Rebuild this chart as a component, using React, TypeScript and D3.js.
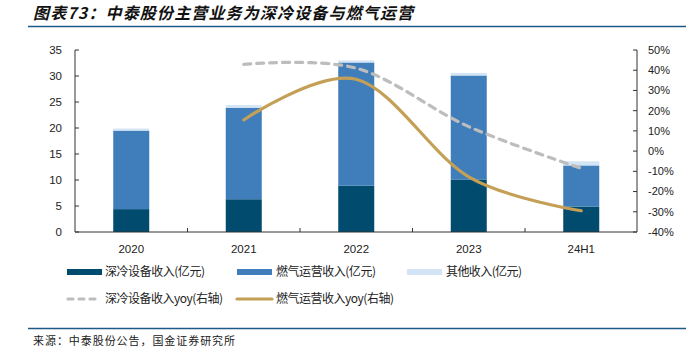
import * as d3 from "d3";
import React from "react";

const categories = ["2020", "2021", "2022", "2023", "24H1"];
const deepCold = [4.4, 6.3, 8.9, 10.1, 4.9];
const gasOps = [15.1, 17.6, 23.7, 20.0, 7.9];
const other = [0.4, 0.5, 0.4, 0.5, 0.8];
const yoyCategories = ["2021", "2022", "2023", "24H1"];
const deepColdYoy = [42.9, 41.0, 12.1, -8.5];
const gasOpsYoy = [15.4, 35.5, -12.7, -29.5];
const leftTicks = [0, 5, 10, 15, 20, 25, 30, 35];
const rightTicks = [-40, -30, -20, -10, 0, 10, 20, 30, 40, 50];

const W = 694;
const H = 352;
const colors = { deep: "#004B6E", gas: "#3F7EBA", other: "#D3E4F4", grayLine: "#BDBDBD", gold: "#C4A057" };
const axisColor = "#333";
const labelFont = "'Liberation Sans', Arial, sans-serif";
const cjkFont = "'Noto Sans CJK SC', sans-serif";

const App: React.FC = () => {
  const x = d3.scaleBand<string>().domain(categories).range([75, 637.5]).paddingInner(0.68).paddingOuter(0.34);
  const yL = d3.scaleLinear().domain([0, 35]).range([232, 50]);
  const yR = d3.scaleLinear().domain([-40, 50]).range([232, 50]);
  const cx = (c: string) => (x(c) ?? 0) + x.bandwidth() / 2;

  const stack = categories.map((c, i) => {
    const a = deepCold[i];
    const b = a + gasOps[i];
    const t = b + other[i];
    return { c, segs: [[0, a, colors.deep], [a, b, colors.gas], [b, t, colors.other]] as [number, number, string][] };
  });

  const line = d3
    .line<[string, number]>()
    .x((d) => cx(d[0]))
    .y((d) => yR(d[1]))
    .curve(d3.curveCatmullRom.alpha(0));

  const grayPath = line(yoyCategories.map((c, i) => [c, deepColdYoy[i]]));
  const goldPath = line(yoyCategories.map((c, i) => [c, gasOpsYoy[i]]));

  const step = x.step();
  const sepTicks = categories.slice(1).map((c) => (x(c) ?? 0) - (step - x.bandwidth()) / 2);

  // legend text, widths
  const legendText = (tx: number, ty: number, s: string, len: number) => (
    <text x={tx} y={ty} dy="0.35em" fontFamily={cjkFont} fontSize={12} fill="#222" textLength={len} lengthAdjust="spacing">
      {s}
    </text>
  );

  return (
    <svg width={W} height={H} style={{ position: "absolute", left: 0, top: 0, background: "#fff" }}>
      {/* title */}
      <text x={33} y={19} fontFamily={cjkFont} fontSize={16} fontWeight="bold" fontStyle="italic" fill="#111" textLength={380} lengthAdjust="spacing">
        图表73：中泰股份主营业务为深冷设备与燃气运营
      </text>
      <line x1={28} x2={686} y1={26.5} y2={26.5} stroke="#1C5A86" strokeWidth={1.5} />

      {/* bars */}
      {stack.map((s) =>
        s.segs.map(([a, b, col], j) => (
          <rect key={s.c + j} x={x(s.c)} width={x.bandwidth()} y={yL(b)} height={yL(a) - yL(b)} fill={col} />
        ))
      )}

      {/* axes */}
      <line x1={75} x2={75} y1={50} y2={232} stroke={axisColor} />
      <line x1={637} x2={637} y1={50} y2={232} stroke={axisColor} />
      <line x1={75} x2={637} y1={232} y2={232} stroke={axisColor} />
      {leftTicks.map((t) => (
        <g key={"l" + t}>
          <line x1={75} x2={79} y1={yL(t)} y2={yL(t)} stroke={axisColor} />
          <text x={62} y={yL(t)} dy="0.35em" textAnchor="end" fontFamily={labelFont} fontSize={11.5} fill="#222">
            {t}
          </text>
        </g>
      ))}
      {rightTicks.map((t) => (
        <g key={"r" + t}>
          <line x1={633} x2={637} y1={yR(t)} y2={yR(t)} stroke={axisColor} />
          <text x={648} y={yR(t)} dy="0.35em" fontFamily={labelFont} fontSize={11} fill="#222">
            {t}%
          </text>
        </g>
      ))}
      {sepTicks.map((t, i) => (
        <line key={"s" + i} x1={t} x2={t} y1={228} y2={232} stroke={axisColor} />
      ))}
      {categories.map((c) => (
        <text key={"c" + c} x={cx(c)} y={249} dy="0.35em" textAnchor="middle" fontFamily={labelFont} fontSize={11.5} fill="#222">
          {c}
        </text>
      ))}

      {/* lines */}
      <path d={grayPath ?? ""} fill="none" stroke={colors.grayLine} strokeWidth={3.2} strokeDasharray="7 6" strokeLinecap="round" />
      <path d={goldPath ?? ""} fill="none" stroke={colors.gold} strokeWidth={3.2} strokeLinecap="round" />

      {/* legend */}
      <rect x={67} y={269} width={35} height={6} fill={colors.deep} />
      {legendText(105, 272, "深冷设备收入(亿元)", 100)}
      <rect x={237} y={269} width={35} height={6} fill={colors.gas} />
      {legendText(276, 272, "燃气运营收入(亿元)", 100)}
      <rect x={407} y={269} width={35} height={6} fill={colors.other} />
      {legendText(446, 272, "其他收入(亿元)", 76)}

      <line x1={68} x2={99} y1={299} y2={299} stroke={colors.grayLine} strokeWidth={3.2} strokeDasharray="5 6" strokeLinecap="round" />
      {legendText(105, 299, "深冷设备收入yoy(右轴)", 118)}
      <line x1={237} x2={272} y1={299} y2={299} stroke={colors.gold} strokeWidth={3.2} strokeLinecap="round" />
      {legendText(276, 299, "燃气运营收入yoy(右轴)", 118)}

      {/* source */}
      <line x1={28} x2={686} y1={328.5} y2={328.5} stroke="#1C5A86" strokeWidth={1.5} />
      <text x={33} y={341} dy="0.35em" fontFamily={cjkFont} fontSize={11} fill="#222" textLength={202} lengthAdjust="spacing">
        来源：中泰股份公告，国金证券研究所
      </text>
    </svg>
  );
};

export default App;
